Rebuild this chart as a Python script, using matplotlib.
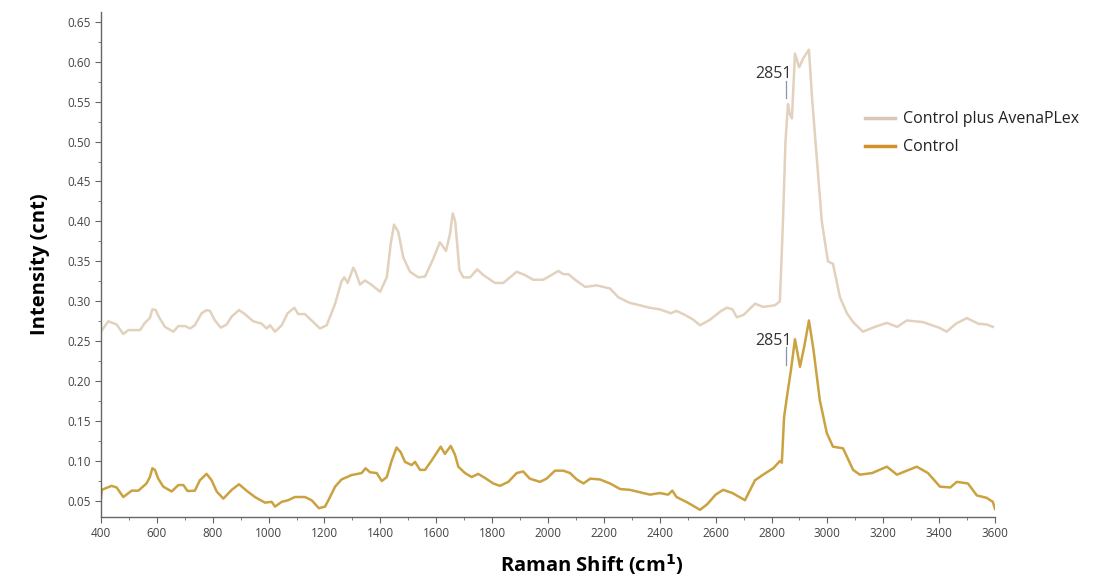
import numpy as np
import matplotlib.pyplot as plt
from matplotlib.lines import Line2D
from matplotlib.ticker import MultipleLocator

plt.rcParams['font.family'] = ['Open Sans', 'DejaVu Sans']

# Control plus AvenaPLex
shift_plus = [400, 426, 456, 480, 498, 540, 557, 575, 584, 596, 608, 629, 659, 677, 701, 719, 736,
              760, 778, 790, 808, 829, 850, 868, 894, 915, 945, 975, 993, 1005, 1023, 1047, 1068,
              1092, 1106, 1130, 1166, 1184, 1208, 1238, 1261, 1271, 1283, 1303, 1311, 1327, 1345,
              1363, 1378, 1399, 1423, 1437, 1449, 1464, 1482, 1506, 1536, 1560, 1589, 1613, 1635,
              1649, 1659, 1668, 1683, 1697, 1721, 1747, 1768, 1810, 1840, 1864, 1888, 1917, 1947,
              1983, 2013, 2037, 2055, 2073, 2097, 2133, 2174, 2222, 2252, 2293, 2329, 2362, 2400,
              2440, 2460, 2490, 2520, 2544, 2580, 2620, 2640, 2660, 2676, 2700, 2741, 2770, 2812,
              2830, 2841, 2850, 2859, 2865, 2873, 2884, 2899, 2915, 2934, 2945, 2962, 2980, 3002,
              3020, 3045, 3070, 3092, 3127, 3170, 3213, 3250, 3284, 3342, 3400, 3427, 3460, 3499,
              3540, 3570, 3592]
int_plus = [0.262, 0.275, 0.271, 0.259, 0.264, 0.264, 0.273, 0.279, 0.290, 0.289, 0.280, 0.268,
            0.262, 0.269, 0.269, 0.266, 0.270, 0.285, 0.289, 0.288, 0.276, 0.267, 0.271, 0.281,
            0.289, 0.284, 0.275, 0.272, 0.266, 0.270, 0.262, 0.270, 0.285, 0.292, 0.284, 0.284,
            0.272, 0.266, 0.270, 0.297, 0.325, 0.330, 0.323, 0.342, 0.337, 0.321, 0.326, 0.322,
            0.318, 0.312, 0.330, 0.372, 0.396, 0.387, 0.355, 0.337, 0.330, 0.331, 0.353, 0.374,
            0.363, 0.384, 0.410, 0.400, 0.339, 0.330, 0.330, 0.340, 0.333, 0.323, 0.323, 0.330,
            0.337, 0.333, 0.327, 0.327, 0.333, 0.338, 0.334, 0.334, 0.327, 0.318, 0.320, 0.316,
            0.305, 0.298, 0.295, 0.292, 0.290, 0.285, 0.288, 0.283, 0.277, 0.270, 0.277, 0.288,
            0.292, 0.290, 0.280, 0.283, 0.297, 0.293, 0.295, 0.300, 0.400, 0.500, 0.547, 0.535,
            0.529, 0.610, 0.593, 0.605, 0.615, 0.555, 0.480, 0.400, 0.350, 0.347, 0.305, 0.285,
            0.274, 0.262, 0.268, 0.273, 0.268, 0.276, 0.274, 0.267, 0.262, 0.272, 0.279, 0.272,
            0.271, 0.268]

# Control
shift_ctrl = [400, 403, 438, 456, 480, 510, 534, 563, 575, 584, 593, 605, 623, 653, 677, 695, 710,
              736, 754, 778, 796, 814, 838, 868, 894, 921, 951, 987, 1011, 1023, 1047, 1070, 1094,
              1130, 1154, 1180, 1202, 1214, 1238, 1261, 1297, 1333, 1347, 1363, 1387, 1405, 1423,
              1441, 1458, 1473, 1488, 1512, 1524, 1542, 1560, 1584, 1616, 1631, 1652, 1667, 1679,
              1703, 1727, 1750, 1774, 1804, 1828, 1858, 1888, 1911, 1935, 1971, 1995, 2025, 2055,
              2079, 2103, 2127, 2151, 2186, 2222, 2258, 2293, 2317, 2365, 2400, 2430, 2445, 2460,
              2500, 2544, 2570, 2600, 2627, 2660, 2705, 2741, 2770, 2806, 2830, 2837, 2845, 2855,
              2870, 2884, 2902, 2918, 2934, 2950, 2973, 2998, 3020, 3056, 3092, 3116, 3160, 3213,
              3249, 3320, 3360, 3403, 3440, 3463, 3503, 3535, 3570, 3592, 3600]
int_ctrl = [0.054, 0.064, 0.069, 0.067, 0.055, 0.063, 0.063, 0.072, 0.080, 0.091, 0.089, 0.078,
            0.068, 0.062, 0.070, 0.070, 0.0625, 0.063, 0.076, 0.084, 0.076, 0.062, 0.053, 0.064,
            0.071, 0.063, 0.055, 0.048, 0.049, 0.043, 0.049, 0.051, 0.055, 0.055, 0.051, 0.041,
            0.043, 0.051, 0.068, 0.077, 0.0825, 0.085, 0.091, 0.086, 0.085, 0.075, 0.080, 0.101,
            0.117, 0.111, 0.099, 0.095, 0.099, 0.089, 0.089, 0.101, 0.118, 0.109, 0.119, 0.108,
            0.093, 0.085, 0.080, 0.084, 0.079, 0.072, 0.069, 0.074, 0.085, 0.087, 0.078, 0.074,
            0.078, 0.088, 0.088, 0.085, 0.077, 0.072, 0.078, 0.077, 0.072, 0.065, 0.064, 0.062,
            0.058, 0.060, 0.058, 0.063, 0.055, 0.048, 0.039, 0.046, 0.058, 0.064, 0.060, 0.051,
            0.076, 0.083, 0.091, 0.100, 0.098, 0.155, 0.180, 0.215, 0.2525, 0.218, 0.245, 0.276,
            0.240, 0.176, 0.135, 0.118, 0.116, 0.089, 0.083, 0.085, 0.093, 0.083, 0.093, 0.085,
            0.068, 0.067, 0.074, 0.072, 0.057, 0.054, 0.049, 0.040]

peak_label = 2851
peak_plus = (0.555, 0.576)
peak_ctrl = (0.220, 0.243)

fig = plt.figure(figsize=(11.12, 5.83), dpi=100)
ax = fig.add_axes([0.0908, 0.1132, 0.804, 0.866])

c_plus = '#e2d1bd'
c_ctrl = '#caa23f'
ax.plot(shift_plus, int_plus, color=c_plus, lw=1.8)
ax.plot(shift_ctrl, int_ctrl, color=c_ctrl, lw=1.8)

# 2851 markers
ax.plot([peak_label, peak_label], peak_plus, color='#8a95aa', lw=0.9)
ax.plot([peak_label, peak_label], peak_ctrl, color='#8a95aa', lw=0.9)
ax.text(peak_label + 22, peak_plus[1] - 0.002, '2851', ha='right', va='bottom',
        fontsize=11.5, color='#333333')
ax.text(peak_label + 22, peak_ctrl[1] - 0.003, '2851', ha='right', va='bottom',
        fontsize=11.5, color='#333333')

ax.set_xlim(400, 3600)
ax.set_ylim(0.03, 0.662)
ax.xaxis.set_major_locator(MultipleLocator(200))
ax.xaxis.set_minor_locator(MultipleLocator(100))
ax.yaxis.set_minor_locator(MultipleLocator(0.025))
ax.set_yticks(np.arange(0.05, 0.651, 0.05))
ax.yaxis.set_major_formatter(plt.FuncFormatter(lambda v, p: f'{v:.2f}'))

for s in ['top', 'right']:
    ax.spines[s].set_visible(False)
for s in ['left', 'bottom']:
    ax.spines[s].set_color('#666666')
    ax.spines[s].set_linewidth(1.0)
ax.tick_params(which='major', length=4, color='#666666', labelsize=8.5, labelcolor='#444444')
ax.tick_params(which='minor', length=2.5, color='#666666')

ax.set_ylabel('Intensity (cnt)', fontsize=14.5, fontweight='bold', labelpad=12)
ax.set_xlabel(r'Raman Shift (cm$^{\mathbf{1}}$)', fontsize=14.5, fontweight='bold')
ax.xaxis.set_label_coords(0.549, -0.07)

handles = [Line2D([], [], color='#d9c6b6', lw=2.5), Line2D([], [], color='#d4902a', lw=2.5)]
ax.legend(handles, ['Control plus AvenaPLex', 'Control'], loc='upper left',
          bbox_to_anchor=(0.838, 0.832), frameon=False, fontsize=11.5, handlelength=1.9,
          handletextpad=0.5, labelspacing=0.75, labelcolor='#222222')

fig.savefig('out.png', dpi=100)
